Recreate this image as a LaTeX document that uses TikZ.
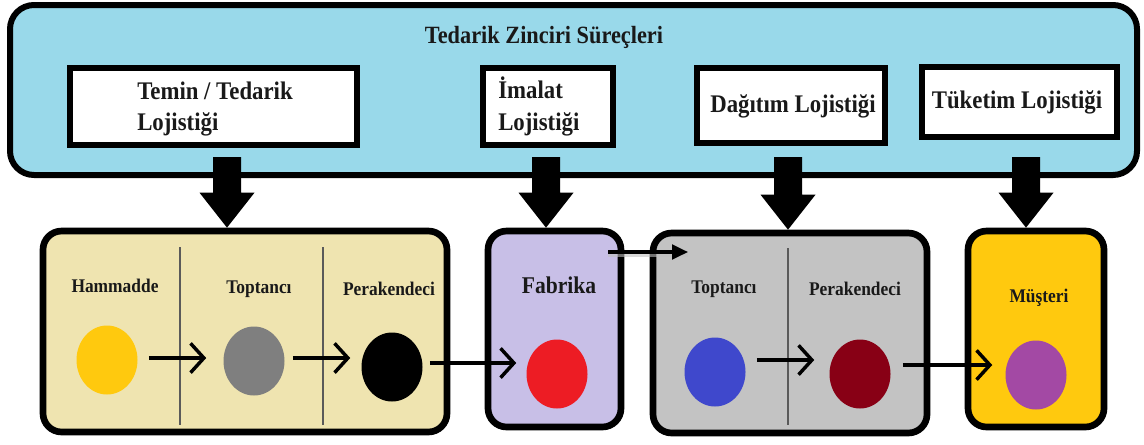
\documentclass[tikz,border=0pt]{standalone}
\usepackage{fontspec}
\setmainfont{Liberation Serif}[FakeStretch=0.9]
\usetikzlibrary{arrows.meta,calc,shapes.geometric}
\newlength\px \setlength\px{0.75pt}
\definecolor{topblue}{RGB}{153,217,234}
\definecolor{tan}{RGB}{239,228,176}
\definecolor{lav}{RGB}{200,191,231}
\definecolor{lgray}{RGB}{195,195,195}
\definecolor{orng}{RGB}{255,201,14}
\definecolor{dgray}{RGB}{127,127,127}
\definecolor{pred}{RGB}{237,28,36}
\definecolor{pblue}{RGB}{63,72,204}
\definecolor{dred}{RGB}{136,0,21}
\definecolor{purp}{RGB}{163,73,164}
\definecolor{divc}{RGB}{90,90,90}
\newcommand\blkarrow[2]{\fill[black] ($(#1)+(-14,0)$) -- ($(#1)+(14,0)$) -- ($(#2)+(14,-35)$) -- ($(#2)+(27.5,-35)$) -- (#2) -- ($(#2)+(-27.5,-35)$) -- ($(#2)+(-14,-35)$) -- cycle;}
\tikzset{
  topbox/.style={draw, line width=4.5pt, fill=topblue, rounded corners=18pt, inner sep=0pt},
  whitebox/.style={draw, line width=5pt, fill=white, inner sep=0pt},
  stagebox/.style={draw, line width=5pt, rounded corners=14pt, inner sep=0pt},
  divider/.style={draw=divc, line width=1.3pt},
  dot/.style={ellipse, minimum width=61\px, minimum height=69\px, inner sep=0pt, draw=none},
  bigtxt/.style={font=\bfseries\fontsize{19}{23}\selectfont, inner sep=0pt, text=black!90},
  titletxt/.style={font=\bfseries\fontsize{18.6}{22}\selectfont, inner sep=0pt, text=black!90},
  smalltxt/.style={font=\bfseries\fontsize{14.5}{17}\selectfont, inner sep=0pt, text=black!90},
  flow/.style={line width=3pt, -{Straight Barb[length=10pt,width=22pt,line width=2.6pt]}},
  push/.style={line width=2.3pt, -{Triangle[length=12pt,width=11pt]}},
}
\begin{document}
\begin{tikzpicture}[x=0.75pt,y=-0.75pt]
\useasboundingbox (0,0) rectangle (1144,444);
% top container
\node[topbox, minimum width=1127\px, minimum height=170\px] (top) at (573.5,90) {};
\node[titletxt, anchor=base] (title) at (544,43) {Tedarik Zinciri Süreçleri};
% logistics boxes
\node[whitebox, minimum width=287\px, minimum height=77\px] (b1) at (213.5,106.5) {};
\node[bigtxt, anchor=base west] (b1a) at (137,99) {Temin / Tedarik};
\node[bigtxt, anchor=base west] (b1b) at (137,130) {Lojistiği};
\node[whitebox, minimum width=130\px, minimum height=77\px] (b2) at (548,106.5) {};
\node[bigtxt, anchor=base west] (b2a) at (498,98) {İmalat};
\node[bigtxt, anchor=base west] (b2b) at (498,130) {Lojistiği};
\node[whitebox, minimum width=188\px, minimum height=75\px] (b3) at (791,105.5) {};
\node[bigtxt, anchor=base] (b3a) at (793,112) {Dağıtım Lojistiği};
\node[whitebox, minimum width=195\px, minimum height=70\px] (b4) at (1019.5,102) {};
\node[bigtxt, anchor=base] (b4a) at (1017,108) {Tüketim Lojistiği};
% stage boxes
\node[stagebox, fill=tan, minimum width=404\px, minimum height=201\px] (A) at (245,331.5) {};
\node[stagebox, fill=lav, minimum width=133\px, minimum height=196\px] (B) at (554.5,329) {};
\node[stagebox, fill=lgray, minimum width=274\px, minimum height=200\px] (C) at (790,333) {};
\node[stagebox, fill=orng, minimum width=136\px, minimum height=196\px] (D) at (1036,329) {};
% dividers
\coordinate (d1t) at (180,247); \coordinate (d1b) at (180,425);
\coordinate (d2t) at (323,247); \coordinate (d2b) at (323,425);
\coordinate (d3t) at (788,248); \coordinate (d3b) at (788,425);
\draw[divider] (d1t) -- (d1b);
\draw[divider] (d2t) -- (d2b);
\draw[divider] (d3t) -- (d3b);
% block arrows
\coordinate (s1) at (227,157); \coordinate (s2) at (546,157);
\coordinate (s3) at (788,157); \coordinate (s4) at (1026,157);
\coordinate (t1) at (s1 |- A.north); \coordinate (t2) at (s2 |- B.north);
\coordinate (t3) at (s3 |- C.north); \coordinate (t4) at (s4 |- D.north);
\blkarrow{s1}{t1}
\blkarrow{s2}{t2}
\blkarrow{s3}{t3}
\blkarrow{s4}{t4}
% labels
\node[smalltxt, anchor=base] (l1) at (115,292) {Hammadde};
\node[smalltxt, anchor=base] (l2) at (259,293) {Toptancı};
\node[smalltxt, anchor=base] (l3) at (389,295) {Perakendeci};
\node[font=\bfseries\fontsize{18}{21}\selectfont, inner sep=0pt, text=black!90, anchor=base] (l4) at (559,293) {Fabrika};
\node[smalltxt, anchor=base] (l5) at (724,293) {Toptancı};
\node[smalltxt, anchor=base] (l6) at (855,295) {Perakendeci};
\node[smalltxt, anchor=base] (l7) at (1039,302) {Müşteri};
% ellipses
\node[dot, fill=orng] (e1) at (107,360) {};
\node[dot, fill=dgray] (e2) at (254,361) {};
\node[dot, fill=black] (e3) at (392,367) {};
\node[dot, fill=pred] (e4) at (557,374) {};
\node[dot, fill=pblue] (e5) at (715,372) {};
\node[dot, fill=dred] (e6) at (860,374) {};
\node[dot, fill=purp] (e7) at (1036,375) {};
% flow arrows
\draw[flow, shorten <=11\px, shorten >=17\px] ([yshift=2\px]e1.east) -- ([yshift=2\px]e1.east -| e2.west);
\draw[flow, shorten <=8\px, shorten >=11\px] ([yshift=3\px]e2.east) -- ([yshift=3\px]e2.east -| e3.west);
\draw[flow, shorten <=7\px, shorten >=10\px] ([yshift=4\px]e3.east) -- ([yshift=4\px]e3.east -| e4.west);
\draw[flow, shorten <=11\px, shorten >=15\px] ([yshift=12\px]e5.east) -- ([yshift=12\px]e5.east -| e6.west);
\draw[flow, shorten <=12\px, shorten >=13\px] ([yshift=9\px]e6.east) -- ([yshift=9\px]e6.east -| e7.west);
% factory to distribution
\coordinate (fs) at (608,252); \coordinate (fe) at (688,252);
\draw[black!25, line width=3pt, opacity=0.6] ([yshift=-3\px]fs) -- ([yshift=-3\px]fe);
\draw[push] (fs) -- (fe);
\end{tikzpicture}
\end{document}
